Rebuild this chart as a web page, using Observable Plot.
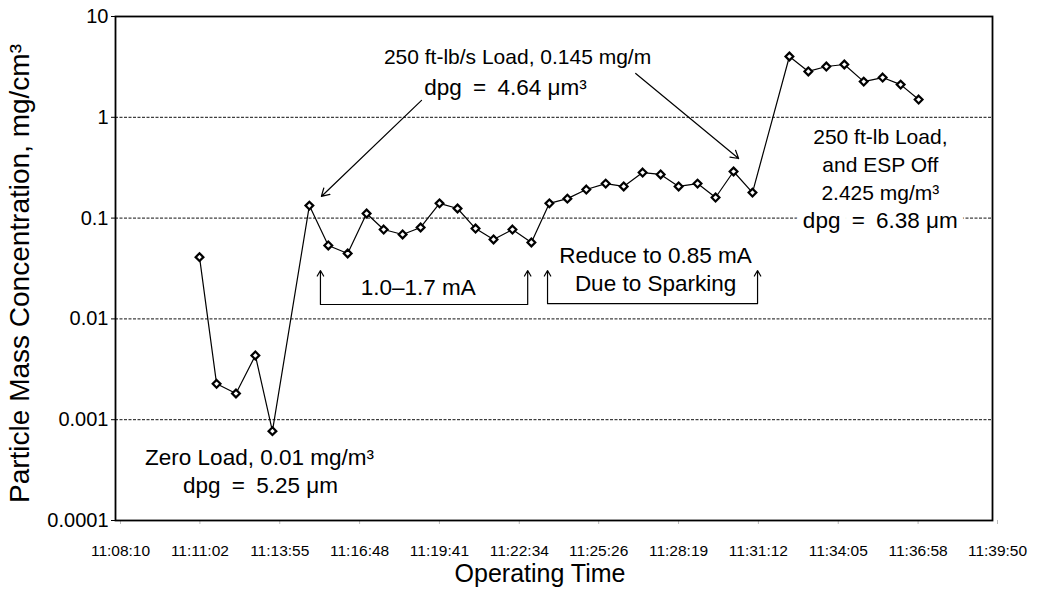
<!DOCTYPE html>
<html>
<head>
<meta charset="utf-8">
<script src="https://cdn.jsdelivr.net/npm/d3@7"></script>
<script src="https://cdn.jsdelivr.net/npm/@observablehq/plot@0.6"></script>
<style>
  html, body { margin: 0; padding: 0; background: #fff; }
  svg { display: block; }
</style>
</head>
<body>
<div id="chart"></div>
<script>
// ---- data ----
const sampleTimes = ["11:11:12","11:11:49","11:12:31","11:13:13","11:13:50","11:15:10","11:15:51","11:16:33","11:17:14","11:17:51","11:18:32","11:19:11","11:19:52","11:20:31","11:21:10","11:21:49","11:22:30","11:23:11","11:23:50","11:24:29","11:25:10","11:25:52","11:26:31","11:27:12","11:27:51","11:28:30","11:29:11","11:29:50","11:30:29","11:31:10","11:32:30","11:33:11","11:33:50","11:34:29","11:35:11","11:35:52","11:36:31","11:37:10"];
const concentration = [0.041,0.00227,0.00182,0.00434,0.00077,0.133,0.0535,0.0446,0.111,0.077,0.0688,0.0807,0.140,0.1245,0.0788,0.0614,0.077,0.0573,0.140,0.156,0.192,0.220,0.206,0.283,0.271,0.206,0.220,0.160,0.290,0.179,4.01,2.85,3.19,3.34,2.26,2.48,2.11,1.50];

const xTickLabels = ["11:08:10","11:11:02","11:13:55","11:16:48","11:19:41","11:22:34","11:25:26","11:28:19","11:31:12","11:34:05","11:36:58","11:39:50"];
const yTickValues = [0.0001, 0.001, 0.01, 0.1, 1, 10];
const yTickLabels = ["0.0001", "0.001", "0.01", "0.1", "1", "10"];
const gridValues = [0.001, 0.01, 0.1, 1];

const xTitle = "Operating Time";
const yTitle = "Particle Mass Concentration, mg/cm³";

// annotation texts: group A (upper / right notes)
const noteATimes  = ["11:22:41", "11:35:47", "11:35:47", "11:35:47"];
const noteAValues = [3.92, 0.631, 0.333, 0.175];
const noteATexts  = ["250 ft-lb/s Load, 0.145 mg/m", "250 ft-lb Load,", "and ESP Off", "2.425 mg/m³"];
// group B (lower notes and dpg lines)
const noteBTimes  = ["11:22:15", "11:13:22", "11:13:24", "11:19:06", "11:27:40", "11:27:40"];
const noteBValues = [1.98, 0.000422, 0.000222, 0.0205, 0.0426, 0.0224];
const noteBTexts  = ["dpg\u2002=\u20024.64 μm³", "Zero Load, 0.01 mg/m³", "dpg\u2002=\u20025.25 μm", "1.0–1.7 mA", "Reduce to 0.85 mA", "Due to Sparking"];
const haloNote = {time: "11:35:47", value: 0.0947, text: "dpg\u2002=\u20026.38 μm"};

// pointer arrows (from -> to)
const arrowFromT = ["11:19:13", "11:26:57"];
const arrowFromV = [1.47, 2.72];
const arrowToT   = ["11:15:36", "11:30:40"];
const arrowToV   = [0.164, 0.39];

// brackets under the data (left time, right time, bottom value, top value)
const bracketLeft   = ["11:15:34", "11:23:46"];
const bracketRight  = ["11:23:03", "11:31:21"];
const bracketBottom = [0.0139, 0.0142];
const bracketTop    = [0.0302, 0.0302];

// ---- build tables ----
const parse = d3.timeParse("%H:%M:%S");
const fmt = d3.timeFormat("%H:%M:%S");
const series = sampleTimes.map((t, i) => ({t: parse(t), v: concentration[i]}));
const xTicks = xTickLabels.map(parse);
const yLabelMap = new Map(yTickValues.map((v, i) => [v, yTickLabels[i]]));
const notesA = noteATimes.map((t, i) => ({t: parse(t), v: noteAValues[i], s: noteATexts[i]}));
const notesB = noteBTimes.map((t, i) => ({t: parse(t), v: noteBValues[i], s: noteBTexts[i]}));
const arrows = arrowFromT.map((t, i) => ({x1: parse(t), y1: arrowFromV[i], x2: parse(arrowToT[i]), y2: arrowToV[i]}));
const bracketArrows = [];
const bracketBars = [];
bracketLeft.forEach((l, i) => {
  const L = parse(l), R = parse(bracketRight[i]);
  bracketArrows.push({x: L, y1: bracketBottom[i], y2: bracketTop[i]});
  bracketArrows.push({x: R, y1: bracketBottom[i], y2: bracketTop[i]});
  bracketBars.push({x1: L, x2: R, y: bracketBottom[i]});
});

const font = "'Liberation Sans', Arial, Helvetica, sans-serif";

const chart = Plot.plot({
  width: 1041,
  height: 604,
  marginLeft: 115,
  marginRight: 49,
  marginTop: 16,
  marginBottom: 84,
  style: {fontFamily: font, background: "white", color: "black"},
  x: {type: "time", domain: [xTicks[0], xTicks[xTicks.length - 1]]},
  y: {type: "log", domain: [yTickValues[0], yTickValues[yTickValues.length - 1]]},
  marks: [
    Plot.ruleY(gridValues, {stroke: "#111", strokeWidth: 1, strokeDasharray: "3,1.5"}),
    Plot.axisY(yTickValues, {tickFormat: d => yLabelMap.get(d), tickSize: 4, tickPadding: 3, fontSize: 20, label: null}),
    Plot.axisX(xTicks, {tickFormat: d => fmt(d), tickSize: 4, tickPadding: 20, fontSize: 15.5, dx: 5, stroke: "#bbb", label: null}),
    Plot.frame({stroke: "black", strokeWidth: 1.8}),
    Plot.line(series, {x: "t", y: "v", stroke: "black", strokeWidth: 1.2}),
    Plot.dot(series, {x: "t", y: "v", symbol: "diamond2", r: 3.5, stroke: "black", strokeWidth: 2.2, fill: "white"}),
    Plot.arrow(arrows, {x1: "x1", y1: "y1", x2: "x2", y2: "y2", stroke: "black", strokeWidth: 1.2, headLength: 11}),
    Plot.arrow(bracketArrows, {x1: "x", x2: "x", y1: "y1", y2: "y2", stroke: "black", strokeWidth: 1.2, headLength: 8}),
    Plot.link(bracketBars, {x1: "x1", x2: "x2", y1: "y", y2: "y", stroke: "black", strokeWidth: 1.2}),
    Plot.text(notesA, {x: "t", y: "v", text: "s", fontSize: 21, fill: "black"}),
    Plot.text(notesB, {x: "t", y: "v", text: "s", fontSize: 22.5, fill: "black"}),
    Plot.text([haloNote], {x: d => parse(d.time), y: "value", text: "text", fontSize: 22.5, fill: "black", stroke: "white", strokeWidth: 14}),
    Plot.text([xTitle], {frameAnchor: "bottom", dy: 61, dx: -14, text: d => d, fontSize: 25}),
    Plot.text([yTitle], {frameAnchor: "left", dx: -95, dy: 5, rotate: -90, textAnchor: "middle", text: d => d, fontSize: 28})
  ]
});
document.getElementById("chart").appendChild(chart);
</script>
</body>
</html>
